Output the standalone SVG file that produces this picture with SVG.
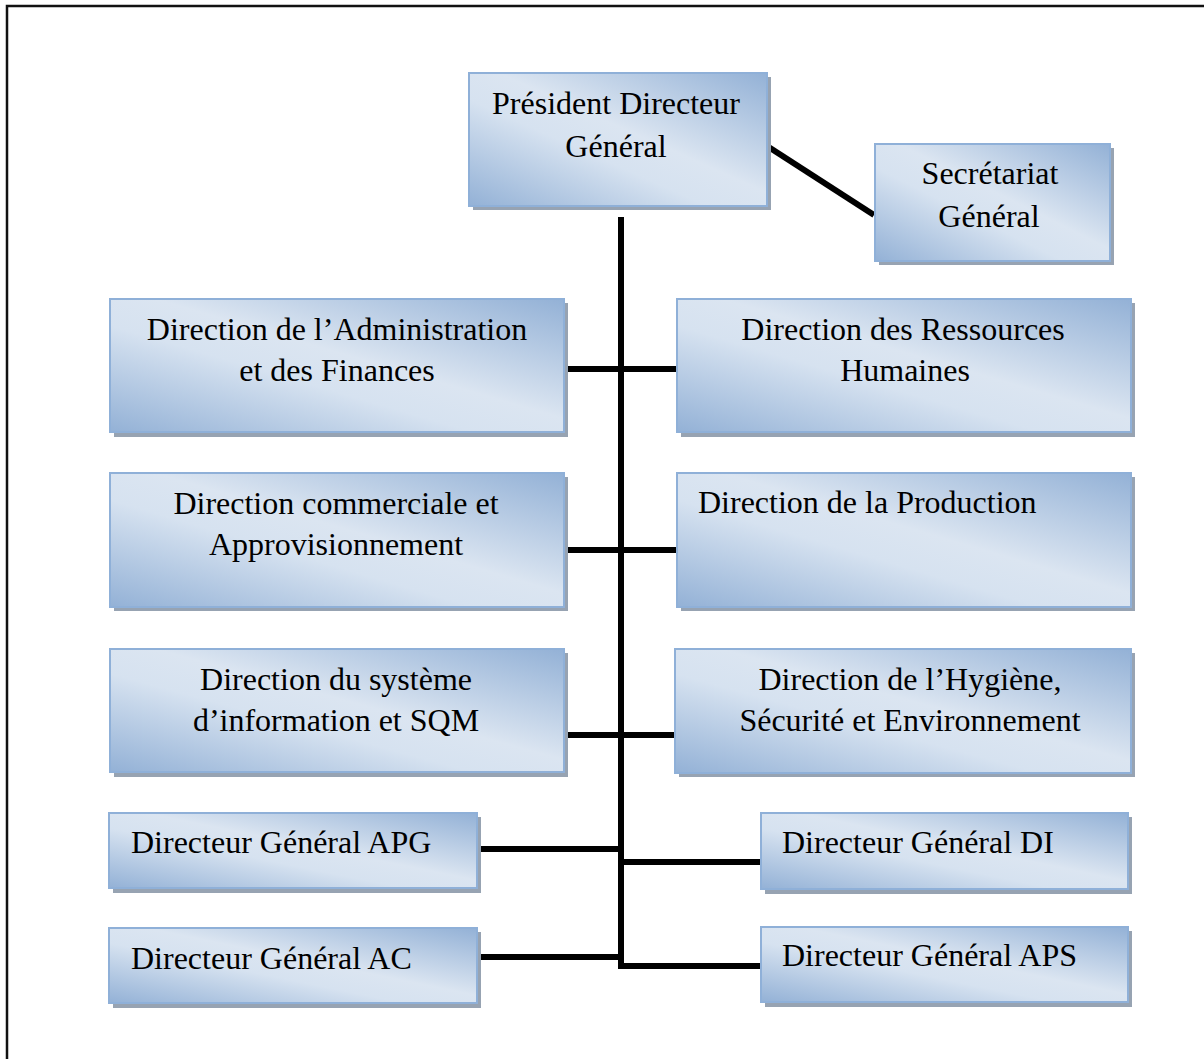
<svg xmlns="http://www.w3.org/2000/svg" width="1204" height="1059" viewBox="0 0 1204 1059">
  <defs>
    <linearGradient id="fillBlue" x1="1" y1="0" x2="0" y2="1">
      <stop offset="0" stop-color="#93b1d6"/>
      <stop offset="0.45" stop-color="#dbe5f1"/>
      <stop offset="0.6" stop-color="#d6e2f0"/>
      <stop offset="1" stop-color="#93b1d6"/>
    </linearGradient>
    <style>
      .frame { fill: none; stroke: #111; stroke-width: 2.5; }
      .shadow { fill: #97a3b2; }
      .box { fill: url(#fillBlue); stroke: #8fb0d8; stroke-width: 2; }
      .lbl { font-family: "Liberation Serif", "Times New Roman", serif; font-size: 32px; fill: #000; }
      .mid { text-anchor: middle; }
      .wire { stroke: #000; stroke-width: 6; fill: none; stroke-linecap: butt; }
    </style>
  </defs>

  <rect width="1204" height="1059" fill="#fff"/>
  <!-- page frame -->
  <rect class="frame" x="7" y="6" width="1220" height="1080"/>

  <!-- connectors -->
  <g id="connectors">
    <line class="wire" x1="621" y1="217" x2="621" y2="969"/>
    <line class="wire" x1="767" y1="146" x2="874" y2="215"/>
    <line class="wire" x1="564" y1="369" x2="677" y2="369"/>
    <line class="wire" x1="564" y1="550" x2="677" y2="550"/>
    <line class="wire" x1="564" y1="735" x2="676" y2="735"/>
    <line class="wire" x1="477" y1="849" x2="621" y2="849"/>
    <line class="wire" x1="618" y1="862" x2="762" y2="862"/>
    <line class="wire" x1="477" y1="957" x2="621" y2="957"/>
    <line class="wire" x1="618" y1="966" x2="762" y2="966"/>
  </g>

  <g id="pdg">
    <rect class="shadow" x="473" y="77" width="298" height="133"/>
    <rect class="box" x="469" y="73" width="298" height="133"/>
    <text class="lbl mid" x="616" y="114">Président Directeur</text>
    <text class="lbl mid" x="616" y="157">Général</text>
  </g>

  <g id="secretariat">
    <rect class="shadow" x="879" y="148" width="235" height="117"/>
    <rect class="box" x="875" y="144" width="235" height="117"/>
    <text class="lbl mid" x="990" y="184">Secrétariat</text>
    <text class="lbl mid" x="989" y="227">Général</text>
  </g>

  <g id="daf">
    <rect class="shadow" x="114" y="303" width="454" height="134"/>
    <rect class="box" x="110" y="299" width="454" height="133"/>
    <text class="lbl mid" x="337" y="340">Direction de l’Administration</text>
    <text class="lbl mid" x="337" y="381">et des Finances</text>
  </g>

  <g id="drh">
    <rect class="shadow" x="681" y="303" width="454" height="134"/>
    <rect class="box" x="677" y="299" width="454" height="133"/>
    <text class="lbl mid" x="903" y="340">Direction des Ressources</text>
    <text class="lbl mid" x="905" y="381">Humaines</text>
  </g>

  <g id="commercial">
    <rect class="shadow" x="114" y="477" width="454" height="134"/>
    <rect class="box" x="110" y="473" width="454" height="134"/>
    <text class="lbl mid" x="336" y="514">Direction commerciale et</text>
    <text class="lbl mid" x="336" y="555">Approvisionnement</text>
  </g>

  <g id="production">
    <rect class="shadow" x="681" y="477" width="454" height="134"/>
    <rect class="box" x="677" y="473" width="454" height="134"/>
    <text class="lbl" x="698" y="513">Direction de la Production</text>
  </g>

  <g id="si">
    <rect class="shadow" x="114" y="653" width="454" height="124"/>
    <rect class="box" x="110" y="649" width="454" height="123"/>
    <text class="lbl mid" x="336" y="690">Direction du système</text>
    <text class="lbl mid" x="336" y="731">d’information et SQM</text>
  </g>

  <g id="hse">
    <rect class="shadow" x="679" y="653" width="456" height="124"/>
    <rect class="box" x="675" y="649" width="456" height="124"/>
    <text class="lbl mid" x="910" y="690">Direction de l’Hygiène,</text>
    <text class="lbl mid" x="910" y="731">Sécurité et Environnement</text>
  </g>

  <g id="dg-apg">
    <rect class="shadow" x="113" y="817" width="368" height="76"/>
    <rect class="box" x="109" y="813" width="368" height="75"/>
    <text class="lbl" x="131" y="853">Directeur Général APG</text>
  </g>

  <g id="dg-di">
    <rect class="shadow" x="765" y="817" width="367" height="77"/>
    <rect class="box" x="761" y="813" width="367" height="76"/>
    <text class="lbl" x="782" y="853">Directeur Général DI</text>
  </g>

  <g id="dg-ac">
    <rect class="shadow" x="113" y="932" width="368" height="76"/>
    <rect class="box" x="109" y="928" width="368" height="75"/>
    <text class="lbl" x="131" y="969">Directeur Général AC</text>
  </g>

  <g id="dg-aps">
    <rect class="shadow" x="765" y="931" width="367" height="76"/>
    <rect class="box" x="761" y="927" width="367" height="75"/>
    <text class="lbl" x="782" y="966">Directeur Général APS</text>
  </g>
</svg>
